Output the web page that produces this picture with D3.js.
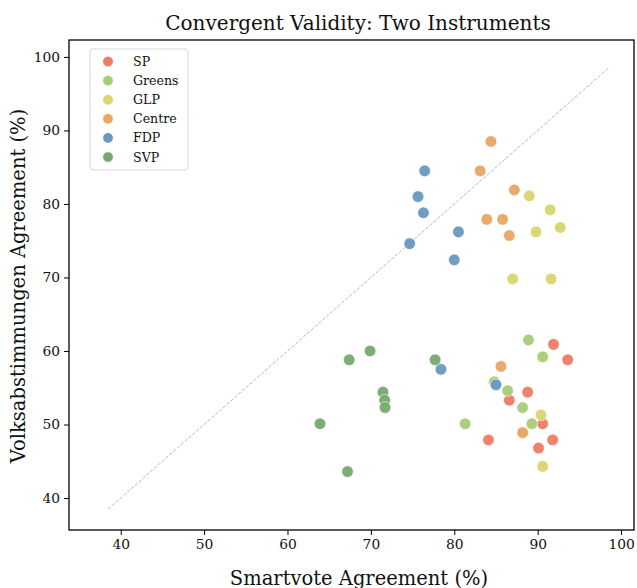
<!DOCTYPE html>
<html>
<head>
<meta charset="utf-8">
<script src="https://cdn.jsdelivr.net/npm/d3@7"></script>
<style>
  body { margin: 0; background: #fff; }
  svg text { font-family: 'DejaVu Serif', serif; fill: #111; }
</style>
</head>
<body>
<svg id="chart" width="637" height="588"></svg>
<script>
// parties and colours
var parties = ["SP", "Greens", "GLP", "Centre", "FDP", "SVP"];
var colors = ["#ee7b63", "#a9cb78", "#d7d66f", "#e8a765", "#6798c3", "#76a86f"];

// [smartvote, volksabstimmungen] per party
var spPts = [[91.9, 60.9], [93.6, 58.8], [88.8, 54.4], [86.6, 53.3], [90.6, 50.1], [84.1, 47.9], [91.8, 47.9], [90.1, 46.8]];
var greensPts = [[88.9, 61.5], [90.6, 59.2], [84.8, 55.8], [86.4, 54.6], [88.2, 52.3], [81.3, 50.1], [89.3, 50.1], [88.2, 48.9]];
var glpPts = [[89.0, 81.1], [91.5, 79.2], [89.8, 76.2], [92.7, 76.8], [87.0, 69.8], [91.6, 69.8], [90.4, 51.3], [90.6, 44.3]];
var centrePts = [[84.4, 88.5], [83.1, 84.5], [87.2, 81.9], [83.9, 77.9], [85.8, 77.9], [86.6, 75.7], [85.6, 57.9], [88.2, 48.9]];
var fdpPts = [[76.45, 84.5], [75.65, 81.0], [76.3, 78.8], [80.5, 76.2], [74.65, 74.6], [80.0, 72.4], [78.4, 57.5], [85.0, 55.4]];
var svpPts = [[69.9, 60.0], [67.4, 58.8], [77.7, 58.8], [71.45, 54.4], [71.65, 53.3], [71.7, 52.3], [63.9, 50.1], [67.2, 43.6]];
var seriesPts = [spPts, greensPts, glpPts, centrePts, fdpPts, svpPts];

var xTicks = [40, 50, 60, 70, 80, 90, 100];
var yTicks = [40, 50, 60, 70, 80, 90, 100];
var diag = [38.5, 98.6];

var svg = d3.select("#chart");
var m = {left: 69, right: 3, top: 40, bottom: 58};
var W = 637, H = 588;

var x = d3.scaleLinear().domain([33.8, 101.55]).range([m.left, W - m.right]);
var y = d3.scaleLinear().domain([35.65, 102.3]).range([H - m.bottom, m.top]);

// diagonal reference line
svg.append("line")
  .attr("x1", x(diag[0])).attr("y1", y(diag[0]))
  .attr("x2", x(diag[1])).attr("y2", y(diag[1]))
  .attr("stroke", "#b0b0b0").attr("stroke-width", 0.9)
  .attr("stroke-dasharray", "3.5,1.6");

// points
seriesPts.forEach(function(pts, i) {
  svg.append("g").selectAll("circle")
    .data(pts)
    .enter().append("circle")
    .attr("cx", function(d) { return x(d[0]); })
    .attr("cy", function(d) { return y(d[1]); })
    .attr("r", 5.8)
    .attr("fill", colors[i])
    .attr("fill-opacity", 0.95)
    .attr("stroke", "#ffffff")
    .attr("stroke-width", 0.6);
});

// axes
var xAxis = svg.append("g")
  .attr("transform", "translate(0," + (H - m.bottom) + ")")
  .call(d3.axisBottom(x).tickValues(xTicks).tickSize(5).tickPadding(4));
var yAxis = svg.append("g")
  .attr("transform", "translate(" + m.left + ",0)")
  .call(d3.axisLeft(y).tickValues(yTicks).tickSize(5).tickPadding(4));
[xAxis, yAxis].forEach(function(a) {
  a.select(".domain").remove();
  a.selectAll(".tick line").attr("stroke", "#000").attr("stroke-width", 1);
  a.selectAll(".tick text").style("font-size", "13.8px").style("font-family", "'DejaVu Serif', serif").attr("fill", "#111");
});

// frame
svg.append("rect")
  .attr("x", m.left).attr("y", m.top)
  .attr("width", W - m.left - m.right).attr("height", H - m.top - m.bottom)
  .attr("fill", "none").attr("stroke", "#000").attr("stroke-width", 1.3);

// title and labels
svg.append("text")
  .attr("x", 358).attr("y", 30)
  .attr("text-anchor", "middle")
  .style("font-size", "20px")
  .text("Convergent Validity: Two Instruments");
svg.append("text")
  .attr("x", 359).attr("y", 585)
  .attr("text-anchor", "middle")
  .style("font-size", "19.5px")
  .text("Smartvote Agreement (%)");
svg.append("text")
  .attr("transform", "translate(25," + 286 + ") rotate(-90)")
  .attr("text-anchor", "middle")
  .style("font-size", "19.5px")
  .text("Volksabstimmungen Agreement (%)");

// legend
var lg = svg.append("g").attr("transform", "translate(90,49)");
lg.append("rect")
  .attr("width", 98).attr("height", 121).attr("rx", 3)
  .attr("fill", "#fff").attr("fill-opacity", 0.85)
  .attr("stroke", "#d6d6d6").attr("stroke-width", 1);
parties.forEach(function(p, i) {
  var row = lg.append("g").attr("transform", "translate(0," + (12.5 + i * 19.1) + ")");
  row.append("circle").attr("cx", 18).attr("cy", 0).attr("r", 5.2)
    .attr("fill", colors[i]).attr("stroke", "#fff").attr("stroke-width", 0.5);
  row.append("text").attr("x", 43).attr("y", 4.5).style("font-size", "12.6px").text(p);
});
</script>
</body>
</html>
